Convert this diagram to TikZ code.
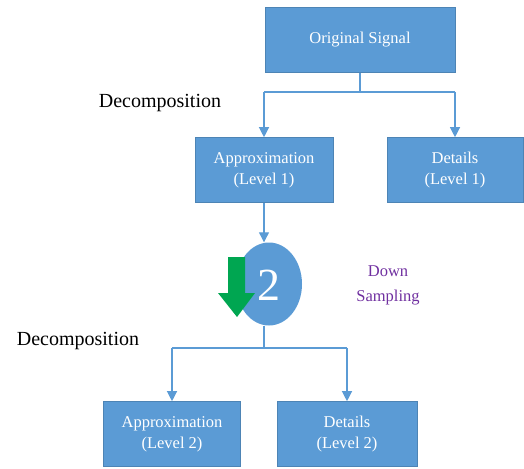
\documentclass[tikz,border=0pt]{standalone}
\usepackage{fontspec}
\setmainfont{Liberation Serif}
\usetikzlibrary{arrows.meta,shapes.geometric}
\definecolor{boxblue}{HTML}{5B9BD5}
\definecolor{linblue}{HTML}{5B9BD5}
\definecolor{dsgreen}{HTML}{00A651}
\definecolor{dspurple}{HTML}{7030A0}
\begin{document}
\begin{tikzpicture}[x=1pt,y=-1pt,
  box/.style={rectangle,fill=boxblue,draw=boxblue!85!black,line width=0.6pt,text=white,
    font=\fontsize{16.5}{21}\selectfont,align=center,inner sep=0pt,minimum height=65pt},
  conn/.style={draw=linblue,line width=1.2pt},
  arr/.style={conn,-{Triangle[width=10pt,length=10pt]}},
  lbl/.style={font=\fontsize{20}{24}\selectfont,text=black}]
\useasboundingbox (0,0) rectangle (524,468);
\node[box,minimum width=190pt] (orig) at (360,40) {Original Signal};
\node[box,minimum width=138pt] (a1) at (264,170) {Approximation\\(Level 1)};
\node[box,minimum width=136pt] (d1) at (455,170) {Details\\(Level 1)};
\node[ellipse,fill=boxblue,minimum width=66pt,minimum height=83pt,inner sep=0pt] (ds) at (269,284) {};
\fill[dsgreen] (228,257) -- (245,257) -- (245,293) -- (255,293) -- (237,317) -- (218,293) -- (228,293) -- cycle;
\node[text=white,font=\fontsize{46}{46}\selectfont,inner sep=0pt] (two) at (269,285) {2};
\node[box,minimum width=137pt] (a2) at (172,434) {Approximation\\(Level 2)};
\node[box,minimum width=140pt] (d2) at (347,434) {Details\\(Level 2)};
\node[lbl] (dec1) at (160,103) {Decomposition};
\node[lbl] (dec2) at (78,341) {Decomposition};
\node[text=dspurple,font=\fontsize{16.5}{25}\selectfont,align=center] (dsl) at (388,285) {Down\\Sampling};
\coordinate (j1) at (360,92);
\coordinate (j1l) at (264,92);
\coordinate (j1r) at (455,92);
\draw[conn] (orig.south) -- (j1);
\draw[conn] (j1l) -- (j1r);
\draw[arr] (j1l) -- (a1.north);
\draw[arr] (j1r) -- (d1.north);
\draw[arr] (a1.south) -- (a1.south |- ds.north);
\coordinate (j2) at (264,348);
\coordinate (j2l) at (172,348);
\coordinate (j2r) at (347,348);
\draw[conn] (j2 |- ds.south) -- (j2);
\draw[conn] (j2l) -- (j2r);
\draw[arr] (j2l) -- (a2.north);
\draw[arr] (j2r) -- (d2.north);
\end{tikzpicture}
\end{document}
